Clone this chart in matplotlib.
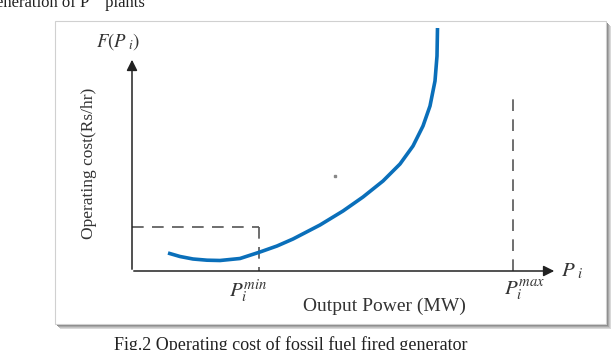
import matplotlib.pyplot as plt
from matplotlib.patches import Rectangle

plt.rcParams['font.family'] = ['Liberation Serif', 'DejaVu Serif']
plt.rcParams['mathtext.fontset'] = 'stix'

# cost curve (power, cost) in axis units
curve_p = [36, 48, 61, 75, 88, 108, 128, 145, 161, 188, 211, 231, 251, 268, 281, 291, 298, 303, 305, 305.5]
curve_cost = [18, 14.5, 12, 10.8, 10.5, 12.5, 19, 25, 32, 46, 60, 74, 90, 107, 125, 145, 165, 190, 215, 243]

# limits
p_min = 127
p_max = 381
cost_min = 44
pmax_line_top = 173
x_axis_end = 425
y_axis_end = 214

y_label = "Operating cost(Rs/hr)"
x_label = "Output Power (MW)"
caption = "Fig.2 Operating cost of fossil fuel fired generator"
top_text = "eneration of P    plants"

fig = plt.figure(figsize=(6.16, 3.5), dpi=100)

# page / frame in pixel coords
bg = fig.add_axes([0, 0, 1, 1])
bg.set_xlim(0, 616)
bg.set_ylim(350, 0)
bg.axis('off')

# shadow of the frame
for off, c in [(5, '#d9d9d9'), (4, '#c4c4c4'), (3, '#a8a8a8'), (2, '#8c8c8c')]:
    bg.add_patch(Rectangle((55 + off, 21 + off), 551, 303, facecolor=c, edgecolor='none', zorder=1))
bg.add_patch(Rectangle((55, 21), 551, 303, facecolor='white', edgecolor='#d0d0d0', lw=0.8, zorder=2))

bg.text(-4, 3, top_text, fontsize=12, va='center', ha='left', color='#222222')
bg.text(114, 336, caption, fontsize=13, va='top', ha='left', color='#222222')

# labels
bg.text(96, 42, r'$F(P_{\ i})$', fontsize=13.5, va='center', ha='left', color='#333333')
bg.text(89, 163, y_label, fontsize=12.5, rotation=90, va='center', ha='center', color='#333333')
bg.text(384, 306, x_label, fontsize=14, va='center', ha='center', color='#333333')
bg.text(229, 291, r'$P_i^{min}$', fontsize=15, va='center', ha='left', color='#333333')
bg.text(504, 291, r'$P_i^{max}$', fontsize=15, va='center', ha='left', color='#333333')
bg.text(561, 271, r'$P_{\ i}$', fontsize=15, va='center', ha='left', color='#333333')
bg.plot([335], [176], 's', ms=1.5, color='#888888', zorder=3)

# plot area, origin at the axis corner
ax = fig.add_axes([132 / 616, 79 / 350, 484 / 616, 271 / 350])
ax.set_xlim(0, 484)
ax.set_ylim(0, 271)
ax.axis('off')
ax.patch.set_alpha(0)

ax.annotate('', xy=(x_axis_end, 0), xytext=(-1, 0),
            arrowprops=dict(arrowstyle='-|>', color='#222222', lw=1.1, mutation_scale=16))
ax.annotate('', xy=(0, y_axis_end), xytext=(0, -1),
            arrowprops=dict(arrowstyle='-|>', color='#222222', lw=1.1, mutation_scale=16))

dash = dict(color='#555555', lw=1.2, dashes=(7, 5))
ax.plot([0, p_min], [cost_min, cost_min], **dash)
ax.plot([p_min, p_min], [cost_min, 0], **dash)
ax.plot([p_max, p_max], [0, pmax_line_top], **dash)

ax.plot(curve_p, curve_cost, color='#0a6fba', lw=2.6, solid_joinstyle='round',
        solid_capstyle='butt', zorder=5)

fig.savefig('out.png', dpi=100)
